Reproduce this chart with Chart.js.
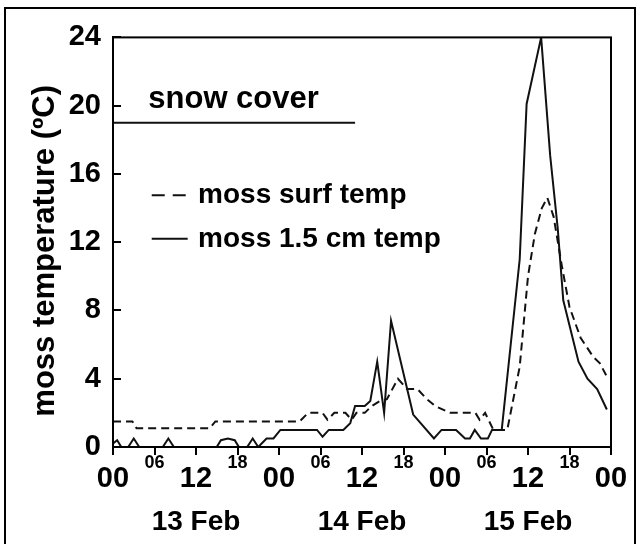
<!DOCTYPE html>
<html>
<head>
<meta charset="utf-8">
<script src="https://cdn.jsdelivr.net/npm/chart.js@4"></script>
<style>
  body { margin: 0; background: #fff; }
  canvas { display: block; }
</style>
</head>
<body>
<canvas id="chart" width="640" height="544"></canvas>
<script>
// Hours since 00:00 13 Feb, temperatures in ºC
var surfHours = [0, 2.8, 3.4, 14, 14.8, 27, 28.2, 30.3, 31, 32, 33.6, 34.5, 35.2, 36.4, 37.4, 38.6, 39.6, 41.2, 42.5, 44, 45.4, 46.6, 48.7, 52.4, 53, 53.8, 55, 57, 58.8, 60, 61, 62, 62.8, 63.7, 64.9, 66, 67.6, 69.4, 70.4, 71.3];
var surfTemps = [1.5, 1.5, 1.1, 1.1, 1.5, 1.5, 2.0, 2.0, 1.6, 2.0, 2.0, 1.6, 2.0, 2.0, 2.4, 2.7, 2.8, 4.0, 3.4, 3.4, 2.8, 2.4, 2.0, 2.0, 1.6, 2.0, 1.0, 1.0, 4.7, 10.0, 12.5, 14.0, 14.6, 13.5, 10.6, 8.2, 6.4, 5.3, 4.9, 4.2];

var depthHours = [0, 0.6, 1.2, 2.2, 3, 3.8, 7.2, 8, 8.8, 15, 15.6, 16.6, 17.6, 18.2, 19.4, 20.2, 21, 22.2, 23.2, 24.2, 29.5, 30.3, 31.2, 33.3, 34.3, 35, 36.4, 37.2, 38.2, 39.2, 40.2, 43.4, 46.4, 47.5, 49.6, 50.9, 51.6, 52.3, 53.2, 54.2, 54.8, 56.2, 58.8, 59.8, 61.9, 63.2, 64.3, 65.1, 67.3, 68.6, 70, 71.4];
var depthTemps = [0.2, 0.4, 0, 0, 0.5, 0, 0, 0.5, 0, 0, 0.4, 0.5, 0.4, 0, 0, 0.5, 0, 0.5, 0.5, 1.0, 1.0, 0.6, 1.0, 1.0, 1.4, 2.4, 2.4, 2.7, 5.0, 2.0, 7.4, 1.9, 0.5, 1.0, 1.0, 0.5, 0.5, 1.0, 0.5, 0.5, 1.0, 1.0, 11.0, 20.1, 24.0, 17.1, 12.8, 8.6, 5.0, 4.0, 3.4, 2.2];

var snowHours = [0, 35];
var snowLevel = 19;

var xTickLabels = ['00', '06', '12', '18', '00', '06', '12', '18', '00', '06', '12', '18', '00'];
var dateHours = [12, 36, 60];
var dateLabels = ['13 Feb', '14 Feb', '15 Feb'];
var yLabelValues = [0, 4, 8, 12, 16, 20, 24];

function toPoints(xs, ys) {
	return xs.map(function(h, i) {
		return { x: h, y: ys[i] };
	});
}

var FONT = '"Liberation Sans", Arial, sans-serif';
var INK = '#111';

// white page, outer frame and plot box
var framePlugin = {
	id: 'frame',
	beforeDraw: function(chart) {
		var ctx = chart.ctx;
		ctx.save();
		ctx.fillStyle = '#fff';
		ctx.fillRect(0, 0, chart.width, chart.height);
		ctx.strokeStyle = '#000';
		ctx.lineWidth = 2;
		ctx.strokeRect(5, 8, 630, 580);
		ctx.restore();
	},
	afterDraw: function(chart) {
		var ctx = chart.ctx;
		var a = chart.chartArea;
		ctx.save();
		ctx.strokeStyle = '#000';
		ctx.lineWidth = 2;
		ctx.strokeRect(a.left, a.top, a.right - a.left, a.bottom - a.top);
		ctx.restore();
	}
};

// "snow cover" label and the hand drawn legend
var notesPlugin = {
	id: 'notes',
	afterDatasetsDraw: function(chart) {
		var ctx = chart.ctx;
		var x = chart.scales.x;
		var y = chart.scales.y;
		ctx.save();
		ctx.fillStyle = '#000';
		ctx.strokeStyle = INK;
		ctx.textBaseline = 'middle';
		ctx.textAlign = 'left';

		ctx.font = 'bold 31px ' + FONT;
		ctx.fillText('snow cover', x.getPixelForValue(5.1), y.getPixelForValue(snowLevel) - 23);

		ctx.font = 'bold 28px ' + FONT;
		var x0 = x.getPixelForValue(5.6);
		var x1 = x.getPixelForValue(10.8);
		var tx = x.getPixelForValue(12.3);
		var r1 = y.getPixelForValue(14.75);
		var r2 = y.getPixelForValue(12.2);

		ctx.lineWidth = 2;
		ctx.setLineDash([13, 8]);
		ctx.beginPath();
		ctx.moveTo(x0, r1);
		ctx.lineTo(x1, r1);
		ctx.stroke();
		ctx.setLineDash([]);
		ctx.fillText('moss surf temp', tx, r1);

		ctx.beginPath();
		ctx.moveTo(x0, r2);
		ctx.lineTo(x1, r2);
		ctx.stroke();
		ctx.fillText('moss 1.5 cm temp', tx, r2);
		ctx.restore();
	}
};

var ctx = document.getElementById('chart').getContext('2d');
var chart = new Chart(ctx, {
	type: 'line',
	data: {
		datasets: [{
			label: 'moss surf temp',
			data: toPoints(surfHours, surfTemps),
			borderColor: INK,
			borderWidth: 2,
			borderDash: [8, 5],
			pointRadius: 0,
			tension: 0
		}, {
			label: 'moss 1.5 cm temp',
			data: toPoints(depthHours, depthTemps),
			borderColor: INK,
			borderWidth: 2,
			pointRadius: 0,
			tension: 0
		}, {
			label: 'snow cover',
			data: snowHours.map(function(h) { return { x: h, y: snowLevel }; }),
			borderColor: INK,
			borderWidth: 2,
			pointRadius: 0
		}]
	},
	options: {
		responsive: false,
		animation: false,
		devicePixelRatio: 1,
		layout: {
			padding: { left: 0, right: 29, top: 37, bottom: 0 }
		},
		plugins: {
			legend: { display: false },
			tooltip: { enabled: false }
		},
		scales: {
			x: {
				type: 'linear',
				min: 0,
				max: 72,
				weight: 0,
				afterFit: function(scale) { scale.height = 40; },
				border: { display: true, color: '#000', width: 2 },
				grid: {
					drawOnChartArea: false,
					drawTicks: true,
					tickLength: 8,
					color: '#000',
					lineWidth: 2
				},
				ticks: {
					stepSize: 6,
					autoSkip: false,
					maxRotation: 0,
					padding: 7,
					color: '#000',
					font: function(c) {
						if (c.index % 2 === 1) {
							return { family: FONT, size: 18, weight: 'bold', lineHeight: '3px' };
						}
						return { family: FONT, size: 29, weight: 'bold' };
					},
					callback: function(v, i) { return xTickLabels[i]; }
				}
			},
			x2: {
				type: 'linear',
				position: 'bottom',
				min: 0,
				max: 72,
				weight: 1,
				afterFit: function(scale) { scale.height = 57; },
				afterBuildTicks: function(scale) {
					scale.ticks = dateHours.map(function(h) { return { value: h }; });
				},
				border: { display: false },
				grid: { display: false, drawTicks: false },
				ticks: {
					autoSkip: false,
					maxRotation: 0,
					padding: 18,
					color: '#000',
					font: { family: FONT, size: 28, weight: 'bold' },
					callback: function(v, i) { return dateLabels[i]; }
				}
			},
			y: {
				min: 0,
				max: 24,
				afterFit: function(scale) { scale.width = 113; },
				border: { display: true, color: '#000', width: 2 },
				grid: {
					drawOnChartArea: false,
					drawTicks: true,
					tickLength: -8,
					color: '#000',
					lineWidth: 2
				},
				ticks: {
					stepSize: 2,
					padding: 20,
					color: '#000',
					font: { family: FONT, size: 29, weight: 'bold' },
					callback: function(v) { return yLabelValues.indexOf(v) >= 0 ? String(v) : ''; }
				},
				title: {
					display: true,
					text: 'moss temperature (ºC)  ',
					color: '#000',
					padding: { top: 27, bottom: 0 },
					font: { family: FONT, size: 31, weight: 'bold' }
				}
			}
		}
	},
	plugins: [framePlugin, notesPlugin]
});
</script>
</body>
</html>
